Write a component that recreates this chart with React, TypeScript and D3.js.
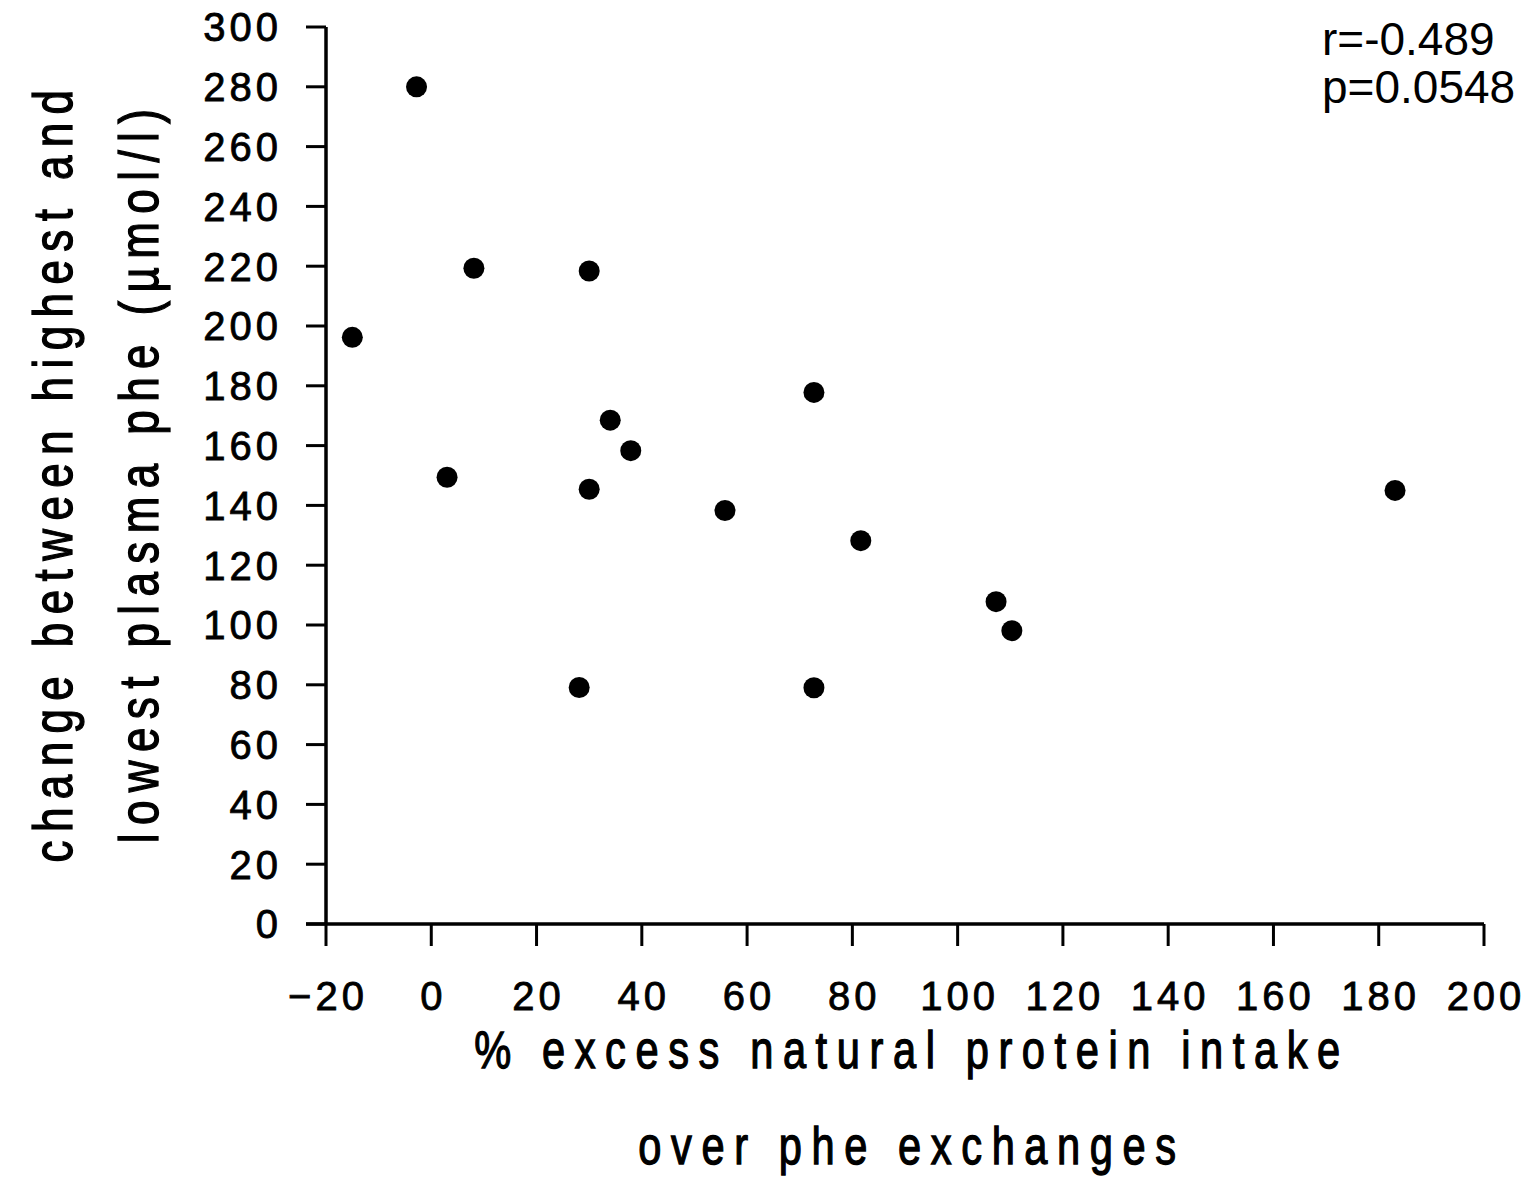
import React from "react";
import * as d3 from "d3";

const xValues = [-15.0, -2.8, 3.0, 8.1, 28.1, 30.0, 30.0, 34.0, 37.9, 55.8, 72.7, 72.7, 81.6, 107.3, 110.3, 183.1];
const yValues = [196.2, 280.0, 149.4, 219.3, 79.1, 218.4, 145.4, 168.5, 158.3, 138.3, 177.8, 79.0, 128.2, 107.8, 98.1, 145.0];
const xTicks = [-20, 0, 20, 40, 60, 80, 100, 120, 140, 160, 180, 200];
const yTicks = [0, 20, 40, 60, 80, 100, 120, 140, 160, 180, 200, 220, 240, 260, 280, 300];
const yLabelLines = ["change between highest and", "lowest plasma phe (\u00B5mol/l)"];
const xLabelLines = ["% excess natural protein intake", "over phe exchanges"];
const statLines = ["r=-0.489", "p=0.0548"];

export default function App() {
  const W = 1533, H = 1180;
  const x = d3.scaleLinear().domain([-20, 200]).range([326, 1484]);
  const y = d3.scaleLinear().domain([0, 300]).range([924, 27]);
  const font = "'Liberation Sans', Arial, Helvetica, sans-serif";
  const fmt = (v: number) => (v < 0 ? "\u2212" + Math.abs(v) : String(v));
  const yLabelStyle = {
    fontFamily: font,
    fontSize: 55,
    letterSpacing: 10.5,
    stroke: "#000",
    strokeWidth: 1.3,
  } as const;
  const xLabelStyle = {
    fontFamily: font,
    fontSize: 52,
    letterSpacing: 12,
    stroke: "#000",
    strokeWidth: 1.3,
  } as const;
  return (
    <svg width={W} height={H} style={{ position: "absolute", left: 0, top: 0, background: "#fff" }}>
      <rect width={W} height={H} fill="#fff" />
      {/* axes */}
      <line x1={x(-20)} x2={x(-20)} y1={y(300)} y2={y(0)} stroke="#000" strokeWidth={3.5} />
      <line x1={x(-20) - 20} x2={x(200)} y1={y(0)} y2={y(0)} stroke="#000" strokeWidth={3.5} />
      {yTicks.map((t) => (
        <g key={"yt" + t}>
          <line x1={x(-20) - 20} x2={x(-20)} y1={y(t)} y2={y(t)} stroke="#000" strokeWidth={3} />
          <text x={282} y={y(t)} dy="0.36em" textAnchor="end" fontFamily={font} fontSize={40} letterSpacing={4} stroke="#000" strokeWidth={0.8}>
            {t}
          </text>
        </g>
      ))}
      {xTicks.map((t) => (
        <g key={"xt" + t}>
          <line x1={x(t)} x2={x(t)} y1={y(0)} y2={y(0) + 22} stroke="#000" strokeWidth={3} />
          <text x={x(t) + 2} y={1010} textAnchor="middle" fontFamily={font} fontSize={40} letterSpacing={4} stroke="#000" strokeWidth={0.8}>
            {fmt(t)}
          </text>
        </g>
      ))}
      {/* points */}
      {xValues.map((v, i) => (
        <circle key={"p" + i} cx={x(v)} cy={y(yValues[i])} r={10.5} fill="#000" />
      ))}
      {/* y label */}
      {yLabelLines.map((s, i) => (
        <text
          key={"yl" + i}
          transform={`translate(${72 + i * 86},${472}) rotate(-90) scale(0.8,1)`}
          textAnchor="middle"
          {...yLabelStyle}
        >
          {s}
        </text>
      ))}
      {/* x label */}
      {xLabelLines.map((s, i) => (
        <text
          key={"xl" + i}
          transform={`translate(${912},${1068 + i * 96}) scale(0.8,1)`}
          textAnchor="middle"
          {...xLabelStyle}
        >
          {s}
        </text>
      ))}
      {/* stats */}
      {statLines.map((s, i) => (
        <text key={"st" + i} x={1322} y={55 + i * 48} fontFamily={font} fontSize={46}>
          {s}
        </text>
      ))}
    </svg>
  );
}
